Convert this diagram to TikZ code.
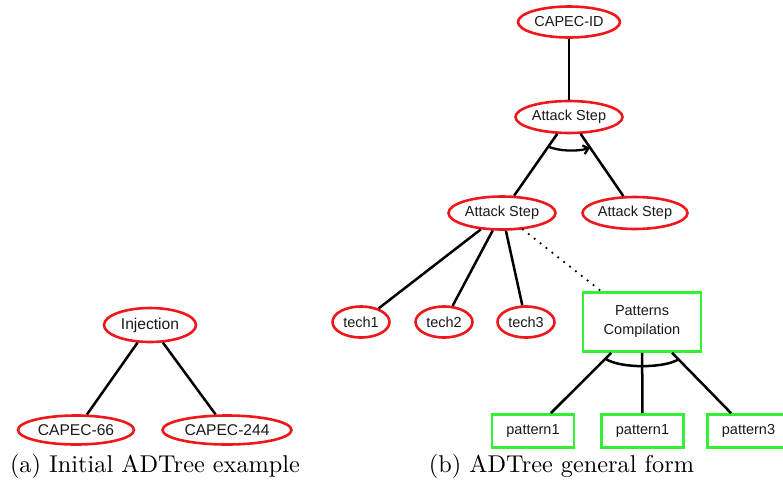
\documentclass[tikz,border=0pt]{standalone}
\usepackage{fontspec}
\newfontfamily\arialfont{Liberation Sans}
\usetikzlibrary{shapes.geometric,arrows.meta}
\definecolor{ered}{RGB}{238,24,28}
\definecolor{egreen}{RGB}{50,240,50}
\definecolor{etext}{RGB}{25,25,25}
\tikzset{
  ell/.style={ellipse, draw=ered, line width=2.6pt, inner sep=0pt, text=etext,
     font=\arialfont\fontsize{14.5}{17}\selectfont},
  bigell/.style={ell, font=\arialfont\fontsize{15.6}{18}\selectfont},
  gbox/.style={rectangle, draw=egreen, line width=2.6pt, inner sep=0pt, text=etext,
     font=\arialfont\fontsize{14.5}{19}\selectfont, align=center},
  conn/.style={draw=black, line width=2.5pt},
  dotconn/.style={draw=black, line width=2.5pt, line cap=round, dash pattern=on 0pt off 7.5pt},
  capt/.style={inner sep=0pt, scale=2.43, font=\fontsize{10}{12}\selectfont}
}
\begin{document}
\begin{tikzpicture}[x=1pt,y=-1pt]
\useasboundingbox (0,0) rectangle (783,487);
% panel (a)
\node[bigell, minimum width=92pt, minimum height=34pt] (inj) at (150,325) {Injection};
\node[bigell, minimum width=116pt, minimum height=29pt] (c66) at (76,430) {CAPEC-66};
\node[bigell, minimum width=129pt, minimum height=29pt] (c244) at (227,430) {CAPEC-244};
\draw[conn] (inj) -- (c66);
\draw[conn] (inj) -- (c244);
\node[capt] (capa) at (155,466) {(a) Initial ADTree example};
% panel (b)
\node[ell, minimum width=102pt, minimum height=31pt] (cid) at (569,22) {CAPEC-ID};
\node[ell, minimum width=107pt, minimum height=32pt] (as0) at (569,117) {Attack Step};
\node[ell, minimum width=107pt, minimum height=33pt] (as1) at (502,213) {Attack Step};
\node[ell, minimum width=105pt, minimum height=32pt] (as2) at (635,213) {Attack Step};
\node[ell, minimum width=57pt, minimum height=31pt] (t1) at (361,322) {tech1};
\node[ell, minimum width=57pt, minimum height=31pt] (t2) at (444,322) {tech2};
\node[ell, minimum width=57pt, minimum height=31pt] (t3) at (526,322) {tech3};
\node[gbox, minimum width=118pt, minimum height=59pt] (pc) at (642,322) {Patterns\\Compilation};
\node[gbox, minimum width=82pt, minimum height=33pt] (p1) at (533,431) {pattern1};
\node[gbox, minimum width=82pt, minimum height=33pt] (p2) at (642.5,431) {pattern1};
\node[gbox, minimum width=82pt, minimum height=33pt] (p3) at (748.5,431) {pattern3};
\draw[conn] (cid) -- (as0);
\draw[conn] (as0) -- (as1);
\draw[conn] (as0) -- (as2);
\draw[conn] (as1) -- (t1);
\draw[conn] (as1) -- (t2);
\draw[conn] (as1) -- (t3);
\coordinate (dend) at (601,291);
\draw[dotconn] (as1) -- (dend);
\draw[conn] (pc) -- (p1);
\draw[conn] (pc) -- (p2);
\draw[conn] (pc) -- (p3);
% refinement arcs
\coordinate (a0s) at (548,146.5);
\coordinate (a0e) at (590,148);
\draw[line width=2.3pt, -{Straight Barb[length=5pt,width=9pt]}] (a0s) .. controls (560,151.5) and (577,151.5) .. (a0e);
\coordinate (pcs) at (606,359);
\coordinate (pce) at (679,359);
\draw[line width=2.5pt] (pcs) .. controls (620,368.5) and (665,368.5) .. (pce);
\node[capt] (capb) at (561.5,466) {(b) ADTree general form};
\end{tikzpicture}
\end{document}
